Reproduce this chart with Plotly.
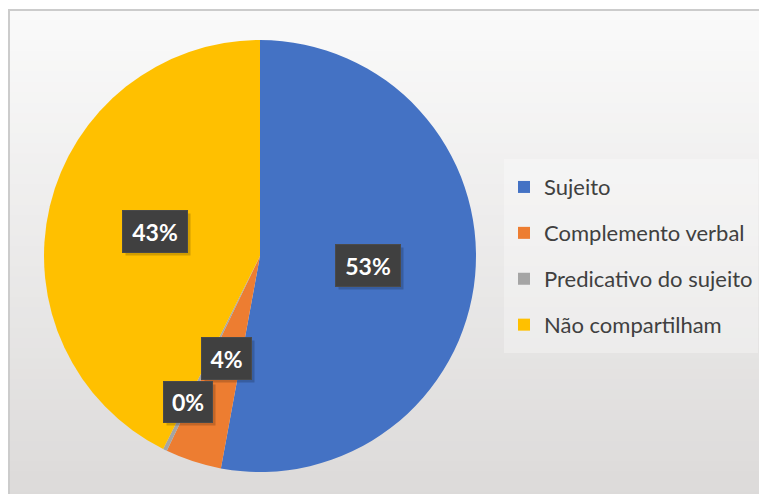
import math
import plotly.graph_objects as go

# ---- data ----
labels = ["Sujeito", "Complemento verbal", "Predicativo do sujeito", "Não compartilham"]
values = [52.9, 4.2, 0.3, 42.6]
colors = ["#4472C4", "#ED7D31", "#A5A5A5", "#FFC000"]

# ---- layout constants (pixels; page has an 8px body margin) ----
OFF = 8
W, H = 767, 494
CX, CY, R = 260 - OFF, 256 - OFF, 216
LABEL_RADIUS = [0.5, 0.5, 0.755, 0.5]
LABEL_BOX = [(64, 41), (49, 41), (48, 40), (64, 41)]
LEGEND_TEXT_SIZE = 22

legend_labels = [f'<span style="font-size:{LEGEND_TEXT_SIZE}px;baseline-shift:5px">{l}</span>' for l in labels]

fig = go.Figure(go.Pie(
    labels=legend_labels,
    values=values,
    marker=dict(colors=colors, line=dict(width=0)),
    sort=False,
    direction="clockwise",
    rotation=0,
    textinfo="none",
    hoverinfo="percent",
    domain=dict(x=[(CX - R) / W, (CX + R) / W], y=[1 - (CY + R) / H, 1 - (CY - R) / H]),
))

# background gradient and frame
shapes = []
N = 48
top_c = (250, 250, 250)
bot_c = (220, 218, 217)
y0 = 10 - OFF
for i in range(N):
    t = i / (N - 1)
    c = tuple(round(top_c[k] + (bot_c[k] - top_c[k]) * t) for k in range(3))
    ya = y0 + (H - y0) * i / N
    yb = y0 + (H - y0) * (i + 1) / N + 1
    shapes.append(dict(type="rect", xref="paper", yref="paper", layer="below",
                       x0=(10 - OFF) / W, x1=1.01, y0=1 - yb / H, y1=1 - ya / H,
                       fillcolor="rgb(%d,%d,%d)" % c, line=dict(width=0)))
shapes.append(dict(type="rect", xref="paper", yref="paper", layer="below",
                   x0=(9 - OFF) / W, x1=1.05, y0=-0.05, y1=1 - (10 - OFF) / H,
                   fillcolor="rgba(0,0,0,0)", line=dict(color="#cccccc", width=2)))

# data labels at slice mid-angles
annotations = []
total = sum(values)
cum = 0
for i, v in enumerate(values):
    mid = (cum + v / 2) / total * 2 * math.pi
    cum += v
    f = LABEL_RADIUS[i]
    px = CX + f * R * math.sin(mid)
    py = CY - f * R * math.cos(mid)
    w, h = LABEL_BOX[i]
    txt = f"{round(v / total * 100)}%"
    # shadow
    annotations.append(dict(x=(px + 3) / W, y=1 - (py + 3) / H, xref="paper", yref="paper",
                            text=" ", showarrow=False, width=w, height=h, borderpad=0,
                            bgcolor="rgba(0,0,0,0.18)", xanchor="center", yanchor="middle"))
    annotations.append(dict(x=px / W, y=1 - py / H, xref="paper", yref="paper",
                            text=f"<b>{txt}</b>", showarrow=False, width=w, height=h, borderpad=0,
                            bgcolor="#404040", bordercolor="#4a4a4a", borderwidth=1,
                            font=dict(family="Lato", size=23, color="white"),
                            xanchor="center", yanchor="middle"))

fig.update_layout(
    width=W, height=H, autosize=False,
    margin=dict(l=0, r=0, t=0, b=0),
    paper_bgcolor="white",
    plot_bgcolor="white",
    shapes=shapes,
    annotations=annotations,
    showlegend=True,
    legend=dict(x=(504 - OFF) / W, y=1 - (159 - OFF) / H, xanchor="left", yanchor="top",
                bgcolor="rgba(255,255,255,0.3)", itemwidth=30,
                font=dict(family="Lato", size=33, color="#404040"),
                itemclick=False, itemdoubleclick=False),
)

fig.write_html("out.html")
